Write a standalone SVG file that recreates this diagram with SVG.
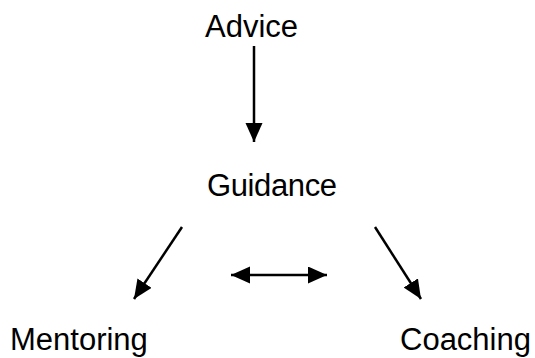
<svg xmlns="http://www.w3.org/2000/svg" width="535" height="358" viewBox="0 0 535 358">
<style>
text{font-family:"Liberation Sans",Arial,sans-serif;font-size:31px;fill:#000}
.c{stroke:#000;stroke-width:2.5;fill:none}
</style>
<defs>
<marker id="ah" markerUnits="userSpaceOnUse" markerWidth="20" markerHeight="18" refX="19" refY="8.5" orient="auto-start-reverse">
<path d="M0,0 L19,8.5 L0,17 Z" fill="#000"/>
</marker>
</defs>
<rect width="535" height="358" fill="#fff"/>
<g id="advice"><text x="205" y="37">Advice</text></g>
<g id="guidance"><text x="207" y="196" textLength="130">Guidance</text></g>
<g id="mentoring"><text x="10" y="350">Mentoring</text></g>
<g id="coaching"><text x="400" y="350">Coaching</text></g>
<g id="connectors">
<line class="c" x1="254" y1="46" x2="254" y2="142" marker-end="url(#ah)"/>
<line class="c" x1="182" y1="227" x2="134" y2="299" marker-end="url(#ah)"/>
<line class="c" x1="375" y1="227" x2="421" y2="299" marker-end="url(#ah)"/>
<line class="c" x1="231" y1="275" x2="327" y2="275" marker-start="url(#ah)" marker-end="url(#ah)"/>
</g>
</svg>
